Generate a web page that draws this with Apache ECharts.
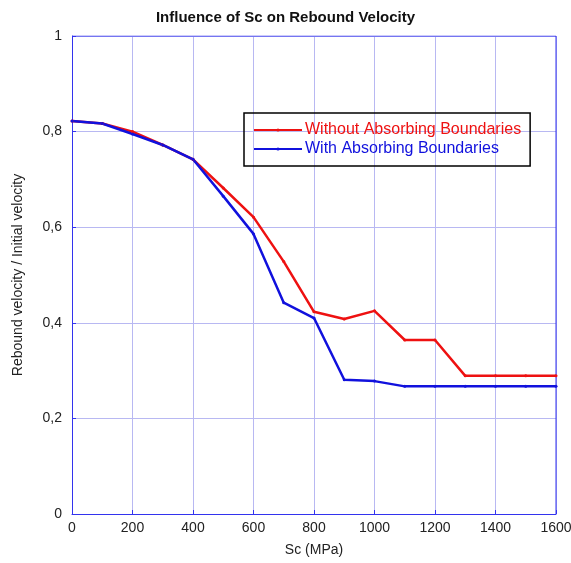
<!DOCTYPE html>
<html><head><meta charset="utf-8">
<script src="https://cdn.jsdelivr.net/npm/echarts@6/dist/echarts.min.js"></script>
<style>html,body{margin:0;padding:0;background:#fff}#c{width:571px;height:563px}</style>
</head><body><div id="c"></div>
<script>
const scValues = [0,100,200,300,400,500,600,700,800,900,1000,1100,1200,1300,1400,1500,1600];
const withoutAbs = [0.822,0.817,0.800,0.772,0.742,0.682,0.621,0.528,0.423,0.408,0.425,0.364,0.364,0.289,0.289,0.289,0.289];
const withAbs = [0.822,0.817,0.795,0.772,0.742,0.665,0.586,0.442,0.410,0.281,0.278,0.267,0.267,0.267,0.267,0.267,0.267];
const seriesNames = ['Without Absorbing Boundaries','With Absorbing Boundaries'];
const seriesColors = ['#ee1111','#1111dd'];

const font = 'Liberation Sans, Arial, sans-serif';
const chart = echarts.init(document.getElementById('c'));
const mk = (vals) => scValues.map((x,i)=>[x, vals[i]]);
chart.setOption({
  animation:false,
  title:{text:'Influence of Sc on Rebound Velocity',left:'center',top:5,
    textStyle:{fontFamily:font,fontSize:15,fontWeight:'bold',color:'#111'}},
  grid:{left:72,right:15,top:36,bottom:49,outerBoundsMode:'none',containLabel:false},
  legend:{orient:'vertical',left:244,top:113,
    borderColor:'#000',borderWidth:1.5,padding:[9,9,9,9],itemGap:3,
    itemWidth:48,itemHeight:4,
    data:[
      {name:seriesNames[0],textStyle:{color:seriesColors[0]}},
      {name:seriesNames[1],textStyle:{color:seriesColors[1]}}
    ],
    textStyle:{fontFamily:font,fontSize:16,padding:[0,0,0,-2]}},
  xAxis:{type:'value',min:0,max:1600,interval:200,
    name:'Sc (MPa)',nameLocation:'middle',nameGap:29,
    nameTextStyle:{fontFamily:font,fontSize:14,color:'#222'},
    axisLine:{lineStyle:{color:'#3333ee',width:1}},
    axisTick:{inside:true,length:4,lineStyle:{color:'#3333ee'}},
    axisLabel:{fontFamily:font,fontSize:14,color:'#222',margin:7,formatter:v=>String(v)},
    splitLine:{show:true,lineStyle:{color:'#b8b8f2',width:1}}},
  yAxis:{type:'value',min:0,max:1,interval:0.2,
    name:'Rebound velocity / Initial velocity',nameLocation:'middle',nameGap:47,
    nameTextStyle:{fontFamily:font,fontSize:14,color:'#222'},
    axisLine:{lineStyle:{color:'#3333ee',width:1}},
    axisTick:{inside:true,length:4,lineStyle:{color:'#3333ee'}},
    axisLabel:{fontFamily:font,fontSize:14,color:'#222',margin:10,
      formatter:v=>String(Math.round(v*10)/10).replace('.',',')},
    splitLine:{show:true,lineStyle:{color:'#b8b8f2',width:1}}},
  series:[
    {name:seriesNames[0],type:'line',data:mk(withoutAbs),color:seriesColors[0],
     lineStyle:{width:2.5},symbol:'circle',symbolSize:3,showSymbol:true},
    {name:seriesNames[1],type:'line',data:mk(withAbs),color:seriesColors[1],
     lineStyle:{width:2.5},symbol:'circle',symbolSize:3,showSymbol:true},
    {type:'line',data:[[0,1],[1600,1],[1600,0]],silent:true,symbol:'none',
     lineStyle:{color:'#3333ee',width:1},tooltip:{show:false}}
  ]
});
</script></body></html>
